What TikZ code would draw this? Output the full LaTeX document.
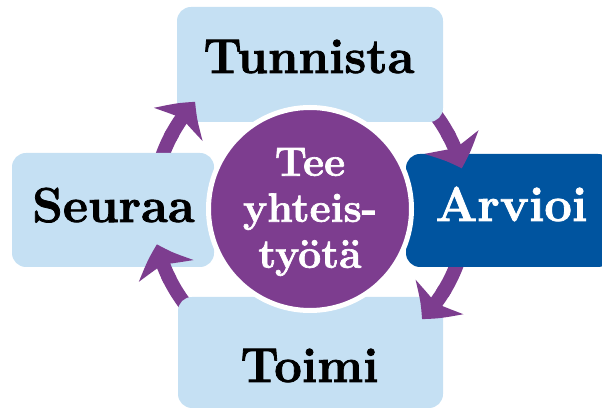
\documentclass[tikz,border=0pt]{standalone}
\usepackage{fontspec}
\setmainfont{Latin Modern Roman}[BoldFeatures={FakeBold=1.6}]
\usetikzlibrary{arrows.meta,bending,calc}
\definecolor{boxblue}{RGB}{197,224,243}
\definecolor{darkblue}{RGB}{0,84,159}
\definecolor{cyclepurple}{RGB}{125,61,143}
\begin{document}
\begin{tikzpicture}[x=1pt,y=1pt,
  box/.style={fill=boxblue, rounded corners=14pt, inner sep=0pt},
  lbl/.style={font=\fontsize{49}{58}\selectfont\bfseries, anchor=base, inner sep=0pt},
  cyc/.style={draw=cyclepurple, line width=14pt},
  cychead/.style={cyc, -{Stealth[length=28pt,width=58pt,inset=7pt,bend]}}]
\useasboundingbox (0,0) rectangle (602,409);
\clip (0,0) rectangle (602,409);
\coordinate (C) at (310,200);
% arrow shafts (tails hidden under the source boxes)
\coordinate (tl0) at ($(C)+(175:157)$);
\coordinate (tr0) at ($(C)+(50:157)$);
\coordinate (br0) at ($(C)+(-10:157)$);
\coordinate (bl0) at ($(C)+(235:157)$);
\draw[cyc] (tl0) arc[start angle=175, end angle=151, radius=157];
\draw[cyc] (tr0) arc[start angle=50, end angle=27, radius=157];
\draw[cyc] (br0) arc[start angle=-10, end angle=-32.5, radius=157];
\draw[cyc] (bl0) arc[start angle=235, end angle=205, radius=157];
% boxes
\node[box, minimum width=266pt, minimum height=115pt] (tunnista) at (310,344.5) {};
\node[box, minimum width=202pt, minimum height=114pt] (seuraa) at (113,199) {};
\node[box, fill=darkblue, minimum width=206pt, minimum height=113pt] (arvioi) at (509,198.5) {};
\node[box, minimum width=265pt, minimum height=111pt] (toimi) at (310.5,56.5) {};
% arrow heads (on top of the target boxes)
\coordinate (tlh) at ($(C)+(153:157)$);
\coordinate (trh) at ($(C)+(29:157)$);
\coordinate (brh) at ($(C)+(-30.5:157)$);
\coordinate (blh) at ($(C)+(207:157)$);
\draw[cychead] (tlh) arc[start angle=153, end angle=137, radius=157];
\draw[cychead] (trh) arc[start angle=29, end angle=15, radius=157];
\draw[cychead] (brh) arc[start angle=-30.5, end angle=-44.5, radius=157];
\draw[cychead] (blh) arc[start angle=207, end angle=193, radius=157];
% labels
\node[lbl] (tunnista-t) at (309,336) {Tunnista};
\node[lbl] (seuraa-t) at (113.5,187) {Seuraa};
\node[lbl, text=white] (arvioi-t) at (511.5,188) {Arvioi};
\node[lbl] (toimi-t) at (309.5,27) {Toimi};
% centre circle
\node[circle, fill=cyclepurple, draw=white, line width=5pt, minimum size=203pt, inner sep=0pt] (centre) at (C) {};
\node[font=\fontsize{41}{46}\selectfont\bfseries, text=white, align=center, inner sep=0pt] (centre-t) at (310,197) {Tee\\yhteis-\\työtä};
\end{tikzpicture}
\end{document}
